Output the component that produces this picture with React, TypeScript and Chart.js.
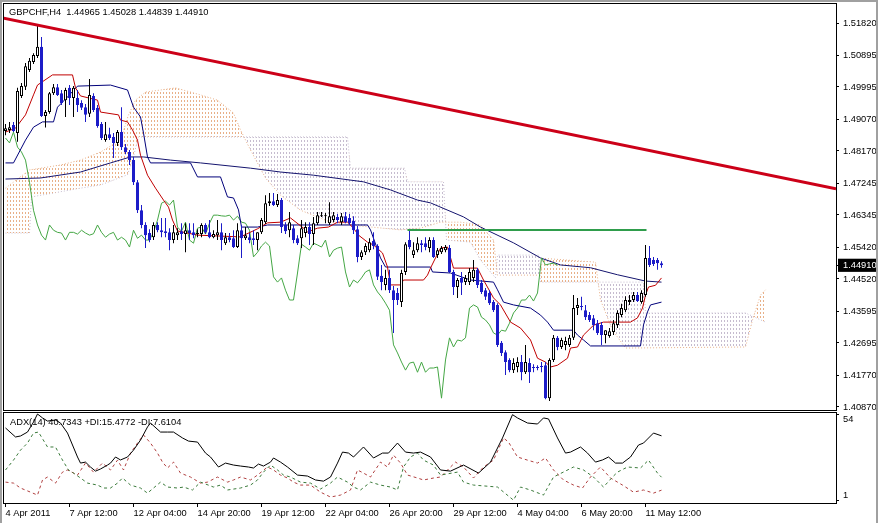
import React, { useEffect, useRef } from 'react';
import { Chart, registerables } from 'chart.js';
Chart.register(...registerables);

const FONT = '"Liberation Sans", Arial, sans-serif';
const X_MIN = -0.375;
const X_MAX = 207.625;
const PRICE_MIN = 1.40783;
const PRICE_MAX = 1.52362;
const ADX_MIN = -0.22;
const ADX_MAX = 54.61;
const BLUE = '#1c1cc8';

const TITLE = 'GBPCHF,H4  1.44965 1.45028 1.44839 1.44910';
const ADX_TITLE = 'ADX(14) 40.7343 +DI:15.4772 -DI:7.6104';
const CURRENT_PRICE = 1.4491;
const PRICE_TICKS = [1.5182, 1.50895, 1.49995, 1.4907, 1.4817, 1.47245, 1.46345, 1.4542, 1.4452, 1.43595, 1.42695, 1.4177, 1.4087];
const ADX_TICKS = [54, 1];
const DATE_TICKS = [0, 16, 32, 48, 64, 80, 96, 112, 128, 144, 160];
const DATE_LABELS = ['4 Apr 2011', '7 Apr 12:00', '12 Apr 04:00', '14 Apr 20:00', '19 Apr 12:00', '22 Apr 04:00', '26 Apr 20:00', '29 Apr 12:00', '4 May 04:00', '6 May 20:00', '11 May 12:00'];

const OPEN = [1.4874,1.4877,1.4891,1.4868,1.4974,1.5000,1.5048,1.5071,1.5088,1.5114,1.4917,1.4928,1.4982,1.4999,1.4982,1.4962,1.4997,1.4968,1.4968,1.4954,1.4942,1.4923,1.4974,1.4940,1.4894,1.4848,1.4865,1.4857,1.4840,1.4871,1.4828,1.4814,1.4791,1.4728,1.4648,1.4606,1.4583,1.4571,1.4606,1.4591,1.4588,1.4585,1.4563,1.4577,1.4588,1.4580,1.4591,1.4585,1.4580,1.4580,1.4606,1.4585,1.4571,1.4577,1.4585,1.4554,1.4571,1.4568,1.4543,1.4591,1.4568,1.4571,1.4568,1.4563,1.4585,1.4614,1.4668,1.4674,1.4663,1.4677,1.4606,1.4591,1.4597,1.4568,1.4568,1.4583,1.4600,1.4580,1.4611,1.4631,1.4631,1.4611,1.4620,1.4629,1.4614,1.4631,1.4626,1.4617,1.4594,1.4515,1.4528,1.4534,1.4560,1.4546,1.4461,1.4435,1.4455,1.4420,1.4412,1.4386,1.4472,1.4563,1.4520,1.4534,1.4554,1.4554,1.4540,1.4563,1.4520,1.4528,1.4534,1.4540,1.4472,1.4429,1.4455,1.4443,1.4443,1.4455,1.4478,1.4441,1.4420,1.4412,1.4386,1.4378,1.4270,1.4243,1.4221,1.4192,1.4201,1.4215,1.4186,1.4212,1.4201,1.4201,1.4204,1.4206,1.4112,1.4221,1.4284,1.4258,1.4264,1.4264,1.4284,1.4369,1.4375,1.4363,1.4349,1.4340,1.4326,1.4321,1.4292,1.4289,1.4301,1.4321,1.4349,1.4363,1.4386,1.4392,1.4406,1.4386,1.4406,1.4512,1.4506,1.4506,1.44965];
const HIGH = [1.4894,1.4900,1.4900,1.4997,1.5011,1.5068,1.5082,1.5096,1.5176,1.5142,1.4934,1.4985,1.5008,1.5008,1.4991,1.4997,1.5005,1.5002,1.4991,1.4962,1.4951,1.5022,1.4982,1.4948,1.4900,1.4900,1.4883,1.4868,1.4877,1.4942,1.4837,1.4820,1.4800,1.4734,1.4663,1.4614,1.4594,1.4614,1.4614,1.4626,1.4626,1.4597,1.4606,1.4597,1.4611,1.4611,1.4611,1.4611,1.4594,1.4611,1.4611,1.4620,1.4591,1.4620,1.4611,1.4583,1.4583,1.4591,1.4611,1.4606,1.4600,1.4583,1.4591,1.4585,1.4626,1.4691,1.4697,1.4697,1.4694,1.4683,1.4614,1.4643,1.4606,1.4577,1.4620,1.4614,1.4614,1.4629,1.4643,1.4643,1.4640,1.4671,1.4643,1.4637,1.4640,1.4643,1.4637,1.4631,1.4603,1.4534,1.4554,1.4568,1.4585,1.4551,1.4492,1.4478,1.4478,1.4432,1.4426,1.4478,1.4557,1.4591,1.4557,1.4571,1.4563,1.4571,1.4571,1.4571,1.4540,1.4546,1.4549,1.4549,1.4478,1.4455,1.4472,1.4463,1.4483,1.4506,1.4483,1.4449,1.4426,1.4420,1.4392,1.4383,1.4275,1.4249,1.4226,1.4226,1.4229,1.4235,1.4264,1.4226,1.4209,1.4206,1.4215,1.4215,1.4226,1.4292,1.4289,1.4284,1.4287,1.4292,1.4406,1.4398,1.4401,1.4378,1.4358,1.4349,1.4335,1.4329,1.4306,1.4312,1.4335,1.4363,1.4381,1.4403,1.4406,1.4415,1.4415,1.4420,1.4549,1.4546,1.4515,1.4512,1.45028];
const LOW = [1.4862,1.4868,1.4871,1.4843,1.4968,1.4991,1.5042,1.5065,1.5082,1.4914,1.4884,1.4923,1.4977,1.4974,1.4948,1.4914,1.4948,1.4914,1.4928,1.4934,1.4900,1.4914,1.4928,1.4883,1.4848,1.4843,1.4848,1.4797,1.4831,1.4820,1.4808,1.4777,1.4720,1.4640,1.4597,1.4540,1.4557,1.4563,1.4585,1.4571,1.4571,1.4534,1.4554,1.4563,1.4563,1.4528,1.4563,1.4568,1.4571,1.4571,1.4580,1.4568,1.4568,1.4563,1.4534,1.4549,1.4557,1.4540,1.4540,1.4512,1.4563,1.4554,1.4549,1.4534,1.4580,1.4609,1.4660,1.4660,1.4657,1.4583,1.4580,1.4571,1.4554,1.4549,1.4540,1.4571,1.4549,1.4549,1.4606,1.4629,1.4611,1.4606,1.4614,1.4611,1.4606,1.4611,1.4606,1.4580,1.4500,1.4506,1.4520,1.4528,1.4537,1.4449,1.4420,1.4420,1.4412,1.4298,1.4378,1.4372,1.4463,1.4537,1.4512,1.4528,1.4528,1.4534,1.4528,1.4512,1.4512,1.4523,1.4528,1.4469,1.4406,1.4398,1.4406,1.4435,1.4435,1.4443,1.4426,1.4409,1.4392,1.4378,1.4358,1.4258,1.4232,1.4178,1.4186,1.4184,1.4186,1.4163,1.4181,1.4155,1.4186,1.4192,1.4186,1.4109,1.4104,1.4215,1.4249,1.4252,1.4249,1.4258,1.4278,1.4349,1.4363,1.4335,1.4329,1.4306,1.4292,1.4264,1.4269,1.4284,1.4292,1.4312,1.4343,1.4358,1.4378,1.4386,1.4386,1.4381,1.4401,1.4486,1.4489,1.4478,1.44839];
const CLOSE = [1.4882,1.4885,1.4874,1.4988,1.5002,1.5059,1.5074,1.5091,1.5114,1.4917,1.4928,1.4982,1.4999,1.4977,1.4954,1.4991,1.4968,1.4997,1.4948,1.4940,1.4920,1.4977,1.4934,1.4888,1.4854,1.4865,1.4854,1.4840,1.4871,1.4828,1.4814,1.4791,1.4728,1.4648,1.4606,1.4577,1.4563,1.4606,1.4591,1.4585,1.4583,1.4563,1.4585,1.4585,1.4580,1.4591,1.4583,1.4577,1.4581,1.4606,1.4585,1.4571,1.4580,1.4585,1.4563,1.4571,1.4563,1.4543,1.4591,1.4568,1.4577,1.4563,1.4563,1.4585,1.4620,1.4668,1.4674,1.4663,1.4677,1.4600,1.4588,1.4614,1.4563,1.4554,1.4597,1.4600,1.4580,1.4611,1.4634,1.4634,1.4632,1.4631,1.4634,1.4620,1.4631,1.4614,1.4611,1.4591,1.4515,1.4528,1.4546,1.4557,1.4546,1.4458,1.4443,1.4455,1.4420,1.4392,1.4392,1.4469,1.4551,1.4543,1.4534,1.4554,1.4549,1.4543,1.4563,1.4515,1.4534,1.4540,1.4543,1.4472,1.4429,1.4449,1.4441,1.4455,1.4472,1.4478,1.4435,1.4415,1.4401,1.4383,1.4363,1.4264,1.4241,1.4215,1.4192,1.4212,1.4215,1.4186,1.4215,1.4186,1.4198,1.4198,1.4201,1.4112,1.4221,1.4284,1.4258,1.4278,1.4275,1.4284,1.4369,1.4378,1.4372,1.4343,1.4335,1.4321,1.4298,1.4292,1.4306,1.4303,1.4326,1.4355,1.4369,1.4392,1.4392,1.4406,1.4389,1.4412,1.4512,1.4492,1.4495,1.4497,1.4491];

const TENKAN = [[0,1.4871],[2.5,1.4882],[5,1.4920],[7,1.4977],[8,1.5005],[11.75,1.5034],[16.75,1.5034],[17.5,1.4997],[18.75,1.4974],[23,1.4962],[23.75,1.4928],[28.25,1.4920],[28.75,1.4905],[30.5,1.4900],[31.75,1.4877],[33,1.4848],[33.75,1.4805],[35.5,1.4748],[37.5,1.4711],[39.5,1.4677],[40.75,1.4657],[41.75,1.4620],[43,1.4589],[48,1.4577],[58.75,1.4572],[63,1.4595],[65.5,1.4612],[68.75,1.4614],[71.25,1.4626],[74.5,1.4597],[75.5,1.4586],[78,1.4597],[80.75,1.4600],[83,1.4614],[85.5,1.4614],[87,1.4597],[88.25,1.4577],[90.5,1.4557],[92,1.4549],[94.25,1.4526],[95.5,1.4486],[96.25,1.4435],[98.75,1.4435],[99.5,1.4449],[104.5,1.4449],[105.5,1.4463],[106.25,1.4483],[107.5,1.4512],[108.75,1.4540],[110.5,1.4543],[112,1.4483],[118,1.4483],[119.5,1.4449],[122,1.4398],[123.75,1.4378],[126.25,1.4329],[128.75,1.4312],[131.25,1.4278],[133,1.4226],[135,1.4215],[136.25,1.4201],[138,1.4206],[140.5,1.4226],[141.25,1.4255],[143,1.4258],[144.5,1.4292],[147,1.4320],[149.5,1.4329],[156.25,1.4329],[158,1.4341],[159.25,1.4369],[160,1.4406],[160.75,1.4429],[162.5,1.4434],[164,1.4455]];
const KIJUN = [[0,1.4783],[2,1.4783],[5,1.4848],[7,1.4885],[9.25,1.4900],[12,1.4900],[13,1.4942],[15.5,1.4971],[18,1.5002],[26.25,1.5005],[30.5,1.4991],[32,1.4942],[33.75,1.4914],[34.5,1.4868],[35.5,1.4800],[36.25,1.4783],[46.25,1.4783],[48,1.4743],[53.75,1.4743],[55.5,1.4686],[57,1.4683],[58.25,1.4649],[59,1.4600],[63,1.4600],[65.5,1.4606],[90.5,1.4606],[91.25,1.4592],[93.75,1.4512],[95,1.4486],[106.25,1.4486],[106.75,1.4472],[111.25,1.4469],[116.25,1.4449],[122,1.4443],[123,1.4421],[124.5,1.4386],[127,1.4378],[131.25,1.4369],[133.75,1.4349],[135.5,1.4329],[137,1.4306],[142,1.4306],[143,1.4292],[144.5,1.4278],[146.25,1.4261],[158.75,1.4261],[159.5,1.4321],[160.5,1.4358],[161.25,1.4378],[164,1.4386]];
const SLOW_MA = [[0,1.4737],[8.75,1.4740],[18.75,1.4757],[26.25,1.4783],[31.25,1.4800],[34.5,1.4800],[41.25,1.4791],[48.75,1.4783],[61.25,1.4768],[68.75,1.4757],[77,1.4748],[89.5,1.4729],[96.25,1.4706],[103,1.4677],[106.25,1.4669],[114.5,1.4629],[118.75,1.4600],[127,1.4555],[133.75,1.4512],[138.75,1.4492],[146.25,1.4484],[153,1.4464],[160,1.4446],[164,1.4443]];
const SPAN_A = [[0,1.4711],[6,1.4763],[13.75,1.4777],[18.75,1.4791],[23.75,1.4814],[28.75,1.4848],[30.75,1.4920],[32.5,1.4962],[35,1.4985],[38.75,1.4991],[42.5,1.4997],[48.75,1.4977],[53,1.4962],[57,1.4925],[58.75,1.4877],[61.25,1.4820],[65,1.4740],[68.75,1.4691],[73.75,1.4648],[81.25,1.4614],[88.75,1.4603],[98.75,1.4592],[103.75,1.4597],[108.75,1.4614],[113.75,1.4614],[118.75,1.4606],[122,1.4563],[123,1.4463],[133.75,1.4463],[134.25,1.4511],[147.5,1.4500],[148.75,1.4392],[151.75,1.4306],[155,1.4255],[185,1.4258],[186.75,1.4335],[188.75,1.4406],[190,1.4421]];
const SPAN_B = [[0,1.4583],[6,1.4583],[6.5,1.4686],[18.75,1.4711],[23.75,1.4720],[30.5,1.4749],[31.75,1.4791],[33.25,1.4857],[85.5,1.4857],[86.25,1.4768],[99.75,1.4768],[100.5,1.4729],[109.5,1.4729],[110.25,1.4563],[116.25,1.4557],[118.75,1.4506],[122.5,1.4455],[123,1.4520],[133.25,1.4520],[133.75,1.4443],[159.5,1.4443],[160,1.4355],[185,1.4355],[190,1.4329]];
const TREND_LINE = [[-0.625,1.5196],[207.625,1.4709]];
const LEVEL_LINE = [[100.5,1.4592],[160.25,1.4592]];
const CHIKOU_SHIFT = 26;

const ADX = [[0,45.5],[2.5,40.0],[3.75,40.6],[5.5,43.0],[7,49.1],[8,54.0],[9.25,51.6],[10.5,49.7],[12.5,50.3],[13.75,48.5],[15.5,42.4],[18,27.8],[18.75,24.1],[20,24.7],[21.25,21.7],[22.5,19.2],[23.75,20.5],[25.5,22.9],[26.25,24.1],[27.5,27.8],[28.75,26.0],[30.5,27.8],[32,32.0],[33.75,38.1],[35.5,46.1],[36.25,48.5],[38.75,43.0],[40.5,43.0],[42,43.0],[44.25,39.4],[45.75,37.5],[48,36.9],[50,30.2],[51.25,27.8],[53.25,21.7],[55,24.1],[57,22.9],[58.75,22.3],[60.75,21.7],[62,21.1],[63.25,23.5],[64.5,22.3],[66.25,24.7],[67,27.2],[68.75,24.7],[70.5,21.7],[73,16.8],[75.5,16.2],[77.5,13.8],[79.5,13.1],[81.25,15.6],[83,24.1],[84.25,30.8],[85.75,30.2],[87,27.8],[89.5,33.9],[92,27.2],[94.25,30.2],[95.75,30.2],[98,36.3],[100,30.8],[102,30.2],[103.75,30.8],[106.25,27.8],[108.75,19.9],[111.25,19.2],[114.5,22.9],[118.25,18.0],[121.25,24.7],[124.25,39.4],[126.75,53.6],[128,51.6],[130.5,48.5],[133,47.9],[134.5,51.6],[135.75,51.0],[138,39.4],[140,30.2],[141.25,30.8],[143.75,33.9],[145.5,30.2],[147.5,24.7],[149.25,26.0],[150.75,27.8],[152.5,24.1],[154.25,24.1],[156.25,27.8],[158.25,35.1],[159.5,36.3],[162,42.4],[164,40.7]];
const PLUS_DI = [[0,19.9],[2,25.9],[3.75,32.0],[5.5,36.3],[7,42.4],[8.25,43.0],[10.5,33.9],[12.5,33.9],[14.25,25.9],[15.75,19.9],[17,18.0],[18.75,15.0],[20.5,11.9],[23,10.7],[24.5,8.9],[26.25,8.9],[28,11.9],[29.25,15.0],[31.25,10.7],[33.75,8.9],[35.5,5.8],[37,8.9],[38.75,12.5],[40.5,9.5],[43,8.9],[44.5,9.5],[46.75,7.7],[48.75,12.5],[52,9.5],[53.75,10.7],[55.5,7.7],[58.75,8.9],[61.25,10.7],[63,13.8],[64.5,18.6],[66.25,22.9],[68,19.9],[69.5,16.8],[71.25,15.6],[73.75,12.5],[76.25,11.9],[78.75,8.3],[81.25,11.9],[83,15.6],[85.5,12.5],[87,9.5],[88.75,7.7],[91.25,12.5],[93.75,10.7],[96.25,9.5],[98,7.7],[99.5,21.7],[101.25,27.8],[103,30.2],[104.5,25.9],[107,22.9],[108.75,16.8],[113,18.6],[114.5,12.5],[117,10.7],[123,9.5],[127,1.5],[128.75,9.5],[131.25,7.7],[134.5,4.6],[137,15.6],[142,21.7],[144.5,19.9],[147,15.6],[149.5,9.5],[151.75,15.6],[153,18.6],[155.5,21.7],[158.75,21.1],[160.75,25.9],[163,18.0],[164,15.5]];
const MINUS_DI = [[0,12.5],[2,11.9],[3.75,8.9],[6.25,6.4],[8,4.6],[9.25,13.8],[10.5,15.6],[12.5,11.9],[14.25,18.6],[15.5,19.9],[18,16.8],[20,24.1],[22,18.6],[24.25,24.1],[26.25,19.9],[28,25.9],[29.5,19.9],[31.25,30.2],[33,36.3],[34.5,41.2],[36.25,36.3],[38,30.2],[39.25,24.7],[40.5,21.1],[42,24.7],[43.75,18.0],[46.25,15.6],[48.75,11.9],[50.5,12.5],[53,15.6],[55.5,12.5],[57,13.8],[58.75,15.6],[61.25,13.8],[63,16.8],[65.5,21.7],[67,19.9],[68.75,16.8],[70.5,15.0],[72,12.5],[73.75,10.7],[76.25,10.7],[78.75,6.4],[81.25,3.4],[83.75,4.6],[86.25,7.7],[88,19.9],[89.5,18.0],[91.25,15.6],[93.75,24.7],[95.5,21.7],[97,29.0],[98.75,24.1],[100.5,16.8],[103,15.0],[104.5,13.8],[107,15.0],[108.75,15.6],[111.25,21.7],[112.5,24.7],[114.5,21.7],[117,15.0],[119.5,21.7],[122,25.9],[124.5,39.4],[125.75,36.9],[128,27.8],[130.5,25.9],[133,24.1],[135,27.2],[137,19.9],[139.5,13.8],[142,10.7],[144.25,8.9],[146.25,15.6],[148.75,21.7],[151.25,15.0],[154.25,10.7],[157,6.4],[159.5,7.7],[162,5.8],[164,7.6]];

const pts = (arr: number[][]) => arr.map(([x, y]) => ({ x, y }));

function makePattern(color: string): CanvasPattern | string {
  const c = document.createElement('canvas');
  c.width = 3;
  c.height = 4;
  const g = c.getContext('2d');
  if (!g) return color;
  g.fillStyle = color;
  g.fillRect(1, 0, 1, 2);
  return g.createPattern(c, 'repeat') || color;
}

const framePlugin = {
  id: 'frame',
  afterDraw(chart: any) {
    const { ctx, chartArea: a } = chart;
    ctx.save();
    ctx.strokeStyle = '#000';
    ctx.lineWidth = 1;
    ctx.strokeRect(a.left - 0.5, a.top - 0.5, a.right - a.left + 1, a.bottom - a.top + 1);
    ctx.restore();
  },
};

const tickFont = { family: FONT, size: 9.3 };

function lineDs(label: string, data: any[], color: string, order: number, extra: any = {}) {
  return {
    type: 'line',
    label,
    data,
    borderColor: color,
    backgroundColor: color,
    borderWidth: 1,
    pointRadius: 0,
    tension: 0,
    fill: false,
    order,
    ...extra,
  };
}

export default function App() {
  const mainRef = useRef<HTMLCanvasElement>(null);
  const adxRef = useRef<HTMLCanvasElement>(null);

  useEffect(() => {
    document.body.style.margin = '0';
    const brown = makePattern('#e8b088');
    const thistle = makePattern('#c6bccf');
    const idx = OPEN.map((_, i) => i);
    const isBull = (i: number) => CLOSE[i] >= OPEN[i];
    const chikou = CLOSE.slice(CHIKOU_SHIFT).map((c, i) => ({ x: i, y: c }));

    const mainDatasets: any[] = [
      lineDs('trend', pts(TREND_LINE), '#cc0018', 1, { borderWidth: 3 }),
      lineDs('level', pts(LEVEL_LINE), '#2f9d4c', 2, { borderWidth: 2 }),
      {
        type: 'bar',
        label: 'body',
        data: idx.map((i) => ({ x: i, y: [OPEN[i], CLOSE[i]] })),
        backgroundColor: idx.map((i) => (isBull(i) ? '#ffffff' : BLUE)),
        borderColor: idx.map((i) => (isBull(i) ? '#000000' : BLUE)),
        borderWidth: 1,
        borderSkipped: false,
        barThickness: 3,
        minBarLength: 1,
        inflateAmount: 0,
        grouped: false,
        order: 3,
      },
      {
        type: 'bar',
        label: 'wick',
        data: idx.map((i) => ({ x: i, y: [LOW[i], HIGH[i]] })),
        backgroundColor: idx.map((i) => (isBull(i) ? '#000000' : BLUE)),
        borderWidth: 0,
        barThickness: 1,
        inflateAmount: 0,
        grouped: false,
        order: 4,
      },
      lineDs('tenkan', pts(TENKAN), '#c00000', 5),
      lineDs('kijun', pts(KIJUN), '#00007a', 6),
      lineDs('chikou', chikou, '#44a644', 7),
      lineDs('ma', pts(SLOW_MA), '#14146e', 8),
      lineDs('spanA', pts(SPAN_A), '#e8b088', 9, {
        borderDash: [1, 2],
        fill: { target: 9, above: brown, below: thistle },
      }),
      lineDs('spanB', pts(SPAN_B), '#c6bccf', 10, { borderDash: [1, 2] }),
    ];

    const main = new Chart(mainRef.current as HTMLCanvasElement, {
      type: 'line',
      data: { datasets: mainDatasets },
      options: {
        responsive: false,
        animation: false,
        events: [],
        layout: { padding: { left: 4, top: 4, right: 0, bottom: 2 } },
        plugins: { legend: { display: false }, tooltip: { enabled: false }, title: { display: false } },
        scales: {
          x: { type: 'linear', min: X_MIN, max: X_MAX, offset: false, display: false },
          y: {
            type: 'linear',
            position: 'right',
            min: PRICE_MIN,
            max: PRICE_MAX,
            beginAtZero: false,
            afterBuildTicks: (axis: any) => {
              axis.ticks = PRICE_TICKS.concat([CURRENT_PRICE]).map((v) => ({ value: v }));
            },
            afterFit: (scale: any) => {
              scale.width = 42;
              scale.paddingTop = 0;
              scale.paddingBottom = 0;
            },
            border: { display: false },
            grid: { drawOnChartArea: false, drawTicks: true, tickLength: 3, color: '#000' },
            ticks: {
              autoSkip: false,
              padding: 4,
              font: tickFont,
              color: (c: any) => (c.tick && c.tick.value === CURRENT_PRICE ? '#ffffff' : '#000000'),
              showLabelBackdrop: (c: any) => !!(c.tick && c.tick.value === CURRENT_PRICE),
              backdropColor: '#000000',
              backdropPadding: { left: 5, right: 2, top: 1, bottom: 1 },
              callback: (v: any) => Number(v).toFixed(5),
            },
          },
        },
      } as any,
      plugins: [framePlugin],
    } as any);

    const adx = new Chart(adxRef.current as HTMLCanvasElement, {
      type: 'line',
      data: {
        datasets: [
          lineDs('adx', pts(ADX), '#000000', 1),
          lineDs('+di', pts(PLUS_DI), '#3a7a3a', 2, { borderDash: [3, 3] }),
          lineDs('-di', pts(MINUS_DI), '#b04040', 3, { borderDash: [3, 3] }),
        ],
      },
      options: {
        responsive: false,
        animation: false,
        events: [],
        layout: { padding: { left: 4, top: 1, right: 0, bottom: 0 } },
        plugins: { legend: { display: false }, tooltip: { enabled: false } },
        scales: {
          x: {
            type: 'linear',
            min: X_MIN,
            max: X_MAX,
            offset: false,
            afterBuildTicks: (axis: any) => {
              axis.ticks = DATE_TICKS.map((v) => ({ value: v }));
            },
            afterFit: (scale: any) => {
              scale.height = 20;
              scale.paddingLeft = 0;
              scale.paddingRight = 0;
            },
            border: { display: false },
            grid: { drawOnChartArea: false, drawTicks: true, tickLength: 4, color: '#000' },
            ticks: {
              autoSkip: false,
              maxRotation: 0,
              minRotation: 0,
              align: 'start',
              padding: 1,
              font: tickFont,
              color: '#000',
              callback: (_v: any, i: number) => DATE_LABELS[i],
            },
          },
          y: {
            type: 'linear',
            position: 'right',
            min: ADX_MIN,
            max: ADX_MAX,
            afterBuildTicks: (axis: any) => {
              axis.ticks = ADX_TICKS.map((v) => ({ value: v }));
            },
            afterFit: (scale: any) => {
              scale.width = 42;
              scale.paddingTop = 0;
              scale.paddingBottom = 0;
            },
            border: { display: false },
            grid: { drawOnChartArea: false, drawTicks: true, tickLength: 3, color: '#000' },
            ticks: {
              autoSkip: false,
              padding: 4,
              font: tickFont,
              color: '#000',
              // max label sits just under its tick, min label just above it (as in the terminal)
              callback: (v: any) => (Number(v) === ADX_TICKS[0] ? ['', String(v)] : [String(v), '']),
            },
          },
        },
      } as any,
      plugins: [framePlugin],
    } as any);

    return () => {
      main.destroy();
      adx.destroy();
    };
  }, []);

  const textStyle: React.CSSProperties = {
    position: 'absolute',
    fontFamily: FONT,
    fontSize: 9.3,
    lineHeight: '11px',
    whiteSpace: 'pre',
    color: '#000',
  };

  return (
    <div style={{ position: 'relative', width: 878, height: 523, background: '#fff', overflow: 'hidden' }}>
      <canvas ref={mainRef} width={878} height={412} style={{ position: 'absolute', left: 0, top: 0, width: 878, height: 412 }} />
      <canvas ref={adxRef} width={878} height={111} style={{ position: 'absolute', left: 0, top: 412, width: 878, height: 111 }} />
      <div style={{ ...textStyle, left: 9, top: 7 }}>{TITLE}</div>
      <div style={{ ...textStyle, left: 10, top: 417 }}>{ADX_TITLE}</div>
      <div style={{ position: 'absolute', left: 0, top: 0, width: 878, height: 2, background: '#a0a0a0' }} />
      <div style={{ position: 'absolute', left: 0, top: 0, width: 2, height: 523, background: '#a0a0a0' }} />
      <div style={{ position: 'absolute', left: 876, top: 0, width: 2, height: 523, background: '#a0a0a0' }} />
    </div>
  );
}
